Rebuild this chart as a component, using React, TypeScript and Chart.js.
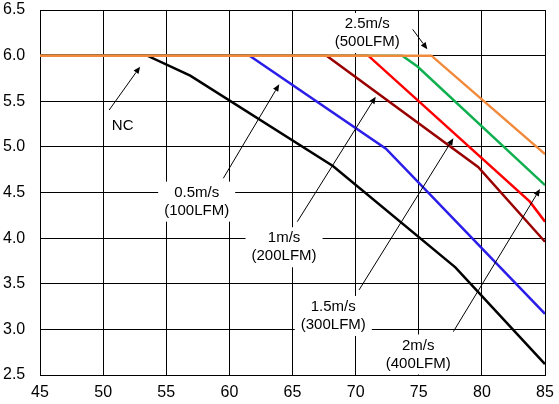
import { useEffect, useRef } from "react";
import { Chart, registerables } from "chart.js";

Chart.register(...registerables);

// series: (airspeed x, value y) break points
const ncX = [45, 53.5, 56.9, 68.2, 77.9, 85];
const ncY = [6.0, 6.0, 5.78, 4.79, 3.68, 2.62];
const v05X = [45, 61.6, 72.4, 85];
const v05Y = [6.0, 6.0, 4.98, 3.17];
const v10X = [45, 67.7, 79.7, 85];
const v10Y = [6.0, 6.0, 4.78, 3.96];
const v15X = [45, 71.0, 83.8, 85];
const v15Y = [6.0, 6.0, 4.4, 4.18];
const v20X = [45, 73.7, 74.9, 85];
const v20Y = [6.0, 6.0, 5.88, 4.58];
const v25X = [45, 76.0, 85];
const v25Y = [6.0, 6.0, 4.92];

const xTicks = [45, 50, 55, 60, 65, 70, 75, 80, 85];
const yTicks = [2.5, 3.0, 3.5, 4.0, 4.5, 5.0, 5.5, 6.0, 6.5];

// callout labels: text lines, label centre, arrow tail and arrow head (data units)
const labelLines = [
  ["NC"],
  ["0.5m/s", "(100LFM)"],
  ["1m/s", "(200LFM)"],
  ["1.5m/s", "(300LFM)"],
  ["2m/s", "(400LFM)"],
  ["2.5m/s", "(500LFM)"],
];
const labelX = [51.55, 57.41, 64.33, 68.23, 74.96, 70.92];
const labelY = [5.23, 4.40, 3.90, 3.147, 2.725, 6.248];
const arrowFrom = [
  [50.48, 5.404],
  [59.52, 4.656],
  [65.38, 4.18],
  [70.27, 3.432],
  [77.74, 2.975],
  [74.52, 6.288],
];
const arrowTo = [
  [52.93, 5.879],
  [63.95, 5.686],
  [71.59, 5.55],
  [77.74, 5.094],
  [84.6, 4.538],
  [75.68, 6.069],
];

const pts = (xs: number[], ys: number[]) => xs.map((x, i) => ({ x, y: ys[i] }));

const FONT = '"Liberation Sans", Arial, sans-serif';
const LINE_H = 18;

const calloutPlugin = {
  id: "callouts",
  beforeDatasetsDraw(chart: Chart) {
    const { ctx, scales } = chart;
    ctx.save();
    ctx.font = `15px ${FONT}`;
    labelLines.forEach((lines, i) => {
      const cx = scales.x.getPixelForValue(labelX[i]);
      const cy = scales.y.getPixelForValue(labelY[i]);
      const w = Math.max(...lines.map((l) => ctx.measureText(l).width)) + 12;
      const h = lines.length * LINE_H + 4;
      ctx.fillStyle = "#ffffff";
      ctx.fillRect(cx - w / 2, cy - h / 2, w, h);
    });
    ctx.restore();
  },
  afterDatasetsDraw(chart: Chart) {
    const { ctx, scales } = chart;
    ctx.save();
    ctx.font = `15px ${FONT}`;
    ctx.fillStyle = "#000000";
    ctx.textAlign = "center";
    ctx.textBaseline = "middle";
    labelLines.forEach((lines, i) => {
      const cx = scales.x.getPixelForValue(labelX[i]);
      const cy = scales.y.getPixelForValue(labelY[i]);
      const top = cy - ((lines.length - 1) * LINE_H) / 2;
      lines.forEach((l, j) => ctx.fillText(l, cx, top + j * LINE_H));
    });

    ctx.strokeStyle = "#000000";
    ctx.lineWidth = 1;
    arrowFrom.forEach((from, i) => {
      const x1 = scales.x.getPixelForValue(from[0]);
      const y1 = scales.y.getPixelForValue(from[1]);
      const x2 = scales.x.getPixelForValue(arrowTo[i][0]);
      const y2 = scales.y.getPixelForValue(arrowTo[i][1]);
      const ang = Math.atan2(y2 - y1, x2 - x1);
      const len = 7;
      const half = 3;
      const bx = x2 - len * Math.cos(ang);
      const by = y2 - len * Math.sin(ang);
      ctx.beginPath();
      ctx.moveTo(x1, y1);
      ctx.lineTo(bx, by);
      ctx.stroke();
      ctx.beginPath();
      ctx.moveTo(x2, y2);
      ctx.lineTo(bx + half * Math.sin(ang), by - half * Math.cos(ang));
      ctx.lineTo(bx - half * Math.sin(ang), by + half * Math.cos(ang));
      ctx.closePath();
      ctx.fill();
    });
    ctx.restore();
  },
};

export default function App() {
  const canvasRef = useRef<HTMLCanvasElement>(null);

  useEffect(() => {
    document.body.style.margin = "0";
    if (!canvasRef.current) return;
    const line = (data: { x: number; y: number }[], color: string, order: number) => ({
      data,
      borderColor: color,
      backgroundColor: color,
      borderWidth: 2.5,
      pointRadius: 0,
      tension: 0,
      fill: false,
      order,
    });
    const chart = new Chart(canvasRef.current, {
      type: "line",
      data: {
        datasets: [
          line(pts(v25X, v25Y), "#f28a3c", 0),
          line(pts(v20X, v20Y), "#10b050", 1),
          line(pts(v15X, v15Y), "#ff0000", 2),
          line(pts(v10X, v10Y), "#990000", 3),
          line(pts(v05X, v05Y), "#2b1ee8", 4),
          line(pts(ncX, ncY), "#000000", 5),
        ],
      },
      options: {
        animation: false,
        responsive: true,
        maintainAspectRatio: false,
        layout: { padding: { top: 10, right: 14, left: 3, bottom: 0 } },
        plugins: { legend: { display: false }, tooltip: { enabled: false } },
        scales: {
          x: {
            type: "linear",
            min: 45,
            max: 85,
            afterBuildTicks: (scale: any) => {
              scale.ticks = xTicks.map((value) => ({ value }));
            },
            afterFit: (scale: any) => {
              scale.height = 29;
            },
            grid: {
              color: "#000000",
              lineWidth: 1,
              drawTicks: true,
              tickLength: 8,
              tickColor: "rgba(0,0,0,0)",
            },
            border: { color: "#000000", width: 1 },
            ticks: { color: "#000000", padding: 0, font: { family: FONT, size: 16 } },
          },
          y: {
            type: "linear",
            min: 2.5,
            max: 6.5,
            afterBuildTicks: (scale: any) => {
              scale.ticks = yTicks.map((value) => ({ value }));
            },
            afterFit: (scale: any) => {
              scale.width = 37;
            },
            grid: { color: "#000000", lineWidth: 1, drawTicks: false },
            border: { color: "#000000", width: 1 },
            ticks: {
              color: "#000000",
              padding: 0,
              crossAlign: "far",
              font: { family: FONT, size: 16 },
              callback: (v: any) => Number(v).toFixed(1),
            },
          },
        },
      },
      plugins: [calloutPlugin],
    });
    return () => chart.destroy();
  }, []);

  return (
    <div style={{ position: "relative", width: 559, height: 404, background: "#ffffff" }}>
      <canvas ref={canvasRef} />
    </div>
  );
}
